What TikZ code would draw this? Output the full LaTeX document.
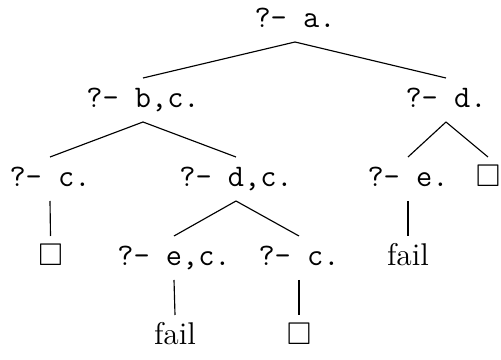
\documentclass[tikz,border=0pt]{standalone}
\usepackage{amssymb}
\begin{document}
\begin{tikzpicture}[x=0.35pt,y=-0.35pt,
  tn/.style={inner sep=0pt, text height=6.5pt, text depth=1pt, minimum height=15pt, font=\fontsize{11}{13}\selectfont\ttfamily},
  rn/.style={inner sep=0pt, text height=6.5pt, text depth=1pt, minimum height=15pt, font=\fontsize{11}{13}\selectfont},
  edge/.style={line width=0.4pt}]
\useasboundingbox (0,0) rectangle (501,360);
\node[tn] (root) at (295,20) {?- a.};
\node[tn] (bc) at (143,100) {?- b,c.};
\node[tn] (d) at (446,100) {?- d.};
\node[tn] (c1) at (50,179) {?- c.};
\node[tn] (dc) at (236,179) {?- d,c.};
\node[tn] (e1) at (408,179) {?- e.};
\node[rn] (box1) at (488,179) {$\square$};
\node[rn] (box2) at (50.5,258) {$\square$};
\node[tn] (ec) at (174,258) {?- e,c.};
\node[tn] (c2) at (299,258) {?- c.};
\node[rn] (fail1) at (408,258) {fail};
\node[rn] (fail2) at (175,337) {fail};
\node[rn] (box3) at (299,337) {$\square$};
\draw[edge] (root.south) -- (bc.north);
\draw[edge] (root.south) -- (d.north);
\draw[edge] (bc.south) -- (c1.north);
\draw[edge] (bc.south) -- (dc.north);
\draw[edge] (d.south) -- (e1.north);
\draw[edge] (d.south) -- (box1.north);
\draw[edge] (c1.south) -- (box2.north);
\draw[edge] (dc.south) -- (ec.north);
\draw[edge] (dc.south) -- (c2.north);
\draw[edge] (e1.south) -- (fail1.north);
\draw[edge] (ec.south) -- (fail2.north);
\draw[edge] (c2.south) -- (box3.north);
\end{tikzpicture}
\end{document}
